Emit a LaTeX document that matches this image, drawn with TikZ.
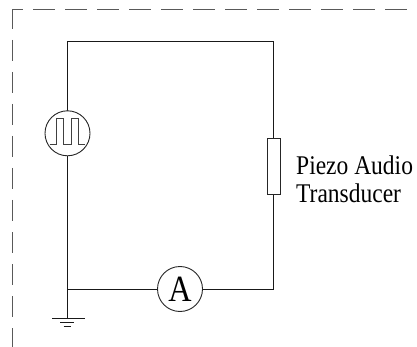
\documentclass[tikz,border=0pt]{standalone}
\usepackage{fontspec}
\setmainfont{Liberation Serif}
\newfontfamily\narrowserif[FakeStretch=0.87]{Liberation Serif}
\tikzset{
  wire/.style={draw=black!90,line width=0.9pt},
  frameline/.style={draw=black!65,line width=1pt},
  symb/.style={circle,draw=black!85,fill=white,line width=0.9pt,minimum size=45pt,inner sep=0pt},
  piezo/.style={rectangle,draw=black!85,fill=white,line width=0.9pt,minimum width=12.5pt,minimum height=56pt,inner sep=0pt},
  lab/.style={anchor=base west,inner sep=0pt,font=\narrowserif\fontsize{27}{27}\selectfont}
}
\begin{document}
\begin{tikzpicture}[x=1pt,y=-1pt]
\useasboundingbox (0,0) rectangle (417,347);
% frame
\coordinate (corner) at (12,10);
\coordinate (frameR) at (417,10);
\coordinate (frameB) at (12,347);
\draw[frameline,dash pattern=on 22pt off 10pt,dash phase=11pt] (corner) -- (frameR);
\draw[frameline,dash pattern=on 21pt off 11pt,dash phase=2pt] (corner) -- (frameB);
% corners and junctions
\coordinate (tl) at (67.5,41.5);
\coordinate (tr) at (273.5,41.5);
\coordinate (br) at (273.5,289);
\coordinate (junc) at (67.5,289);
\coordinate (gnd) at (67.5,318.5);
% wires
\draw[wire] (junc) -- (tl) -- (tr) -- (br) -- (junc);
\draw[wire] (junc) -- (gnd);
% elements
\node[symb] (src) at (67.5,133.3) {};
\node[symb] (amm) at (180,289) {\narrowserif\fontsize{37}{37}\selectfont A};
\node[piezo] (pz) at (273.8,166) {};
% pulse
\draw[draw=black!75,line width=0.9pt] (49.5,144) -- (56.7,144) -- (56.7,118) -- (63.5,118) -- (63.5,144) -- (71,144) -- (71,118) -- (78,118) -- (78,144) -- (85,144);
% ground
\coordinate (g1a) at (52,318.5); \coordinate (g1b) at (85,318.5);
\coordinate (g2a) at (60,322.5); \coordinate (g2b) at (74,322.5);
\coordinate (g3a) at (63.5,326.5); \coordinate (g3b) at (71,326.5);
\draw[wire] (g1a) -- (g1b);
\draw[wire] (g2a) -- (g2b);
\draw[wire] (g3a) -- (g3b);
% label
\node[lab] (t1) at (296,175) {Piezo Audio};
\node[lab] (t2) at (296,203) {Transducer};
\end{tikzpicture}
\end{document}
